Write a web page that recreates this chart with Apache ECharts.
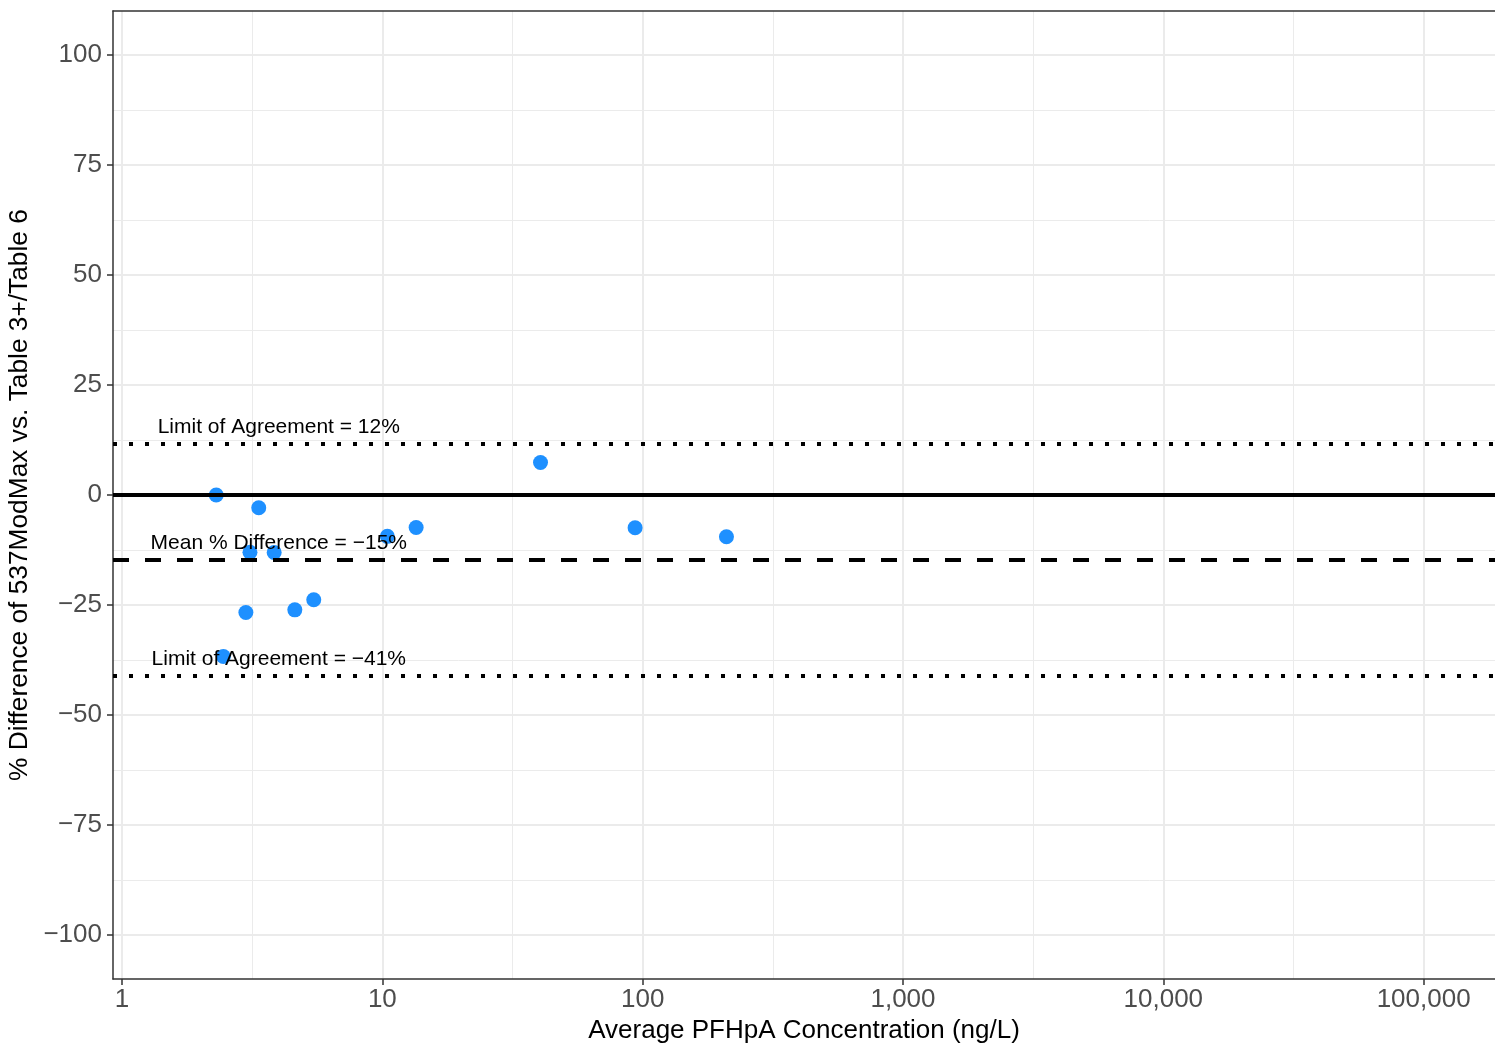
<!DOCTYPE html>
<html>
<head>
<meta charset="utf-8">
<script src="https://cdn.jsdelivr.net/npm/echarts@6/dist/echarts.min.js"></script>
<style>
  html, body { margin: 0; padding: 0; background: #fff; }
  #chart { width: 1495px; height: 1045px; }
</style>
</head>
<body>
<div id="chart"></div>
<script>
// 측정값 (평균 농도, % 차이)
var avgConc = [2.30, 3.35, 3.10, 3.84, 2.99, 4.61, 5.45, 2.45, 10.45, 13.48, 40.5, 93.5, 209.8]
var pctDiff = [0.0, -2.9, -13.0, -13.05, -26.7, -26.1, -23.8, -36.7, -9.4, -7.4, 7.4, -7.45, -9.5]

// 기준선 값
var meanDiff = -14.64
var upperLoA = 11.69
var lowerLoA = -40.98
var labelX = 4

// 축 눈금
var xTicks = [1, 10, 100, 1000, 10000, 100000]
var xMinor = [3.1623, 31.623, 316.23, 3162.3, 31623]
var yTicks = [-100, -75, -50, -25, 0, 25, 50, 75, 100]
var yMinor = [-87.5, -62.5, -37.5, -12.5, 12.5, 37.5, 62.5, 87.5]

var points = avgConc.map(function (x, i) { return [x, pctDiff[i]] })

var font = 'Liberation Sans, Arial, Helvetica, sans-serif'
var gridColor = '#EBEBEB'
var axisColor = '#333333'

function minus(v) { return String(v).replace('-', '\u2212') }

var chart = echarts.init(document.getElementById('chart'))

var option = {
  animation: false,
  backgroundColor: '#fff',
  grid: { left: 113, right: 0, top: 11, bottom: 66, outerBoundsMode: 'none' },
  xAxis: [
    {
      type: 'log',
      min: 0.923,
      max: 188000,
      name: 'Average PFHpA Concentration (ng/L)',
      nameLocation: 'middle',
      nameGap: 37,
      nameTextStyle: { fontFamily: font, fontSize: 26, color: '#000' },
      axisLine: { show: true, onZero: false, lineStyle: { color: axisColor, width: 1.5 } },
      axisTick: { show: true, length: 6, customValues: xTicks, lineStyle: { color: axisColor, width: 1.5 } },
      axisLabel: {
        customValues: xTicks,
        margin: 8,
        fontFamily: font, fontSize: 26, color: '#4D4D4D',
        formatter: function (v) { return Number(v).toLocaleString('en-US') }
      },
      splitLine: { show: true, lineStyle: { color: gridColor, width: 2 } }
    },
    {
      type: 'log',
      min: 0.923,
      max: 188000,
      position: 'top',
      axisLine: { show: true, onZero: false, lineStyle: { color: axisColor, width: 1.5 } },
      axisTick: { show: false, customValues: xMinor },
      axisLabel: { show: false, customValues: xMinor },
      splitLine: { show: true, lineStyle: { color: gridColor, width: 1 } }
    }
  ],
  yAxis: [
    {
      type: 'value',
      min: -110,
      max: 110,
      name: '% Difference of 537ModMax vs. Table 3+/Table 6',
      nameLocation: 'middle',
      nameGap: 68,
      nameTextStyle: { fontFamily: font, fontSize: 26.3, color: '#000' },
      axisLine: { show: true, onZero: false, lineStyle: { color: axisColor, width: 1.5 } },
      axisTick: { show: true, length: 6, customValues: yTicks, lineStyle: { color: axisColor, width: 1.5 } },
      axisLabel: {
        customValues: yTicks,
        margin: 11,
        fontFamily: font, fontSize: 26, color: '#4D4D4D',
        formatter: minus
      },
      splitLine: { show: true, lineStyle: { color: gridColor, width: 2 } }
    },
    {
      type: 'value',
      min: -110,
      max: 110,
      position: 'right',
      axisLine: { show: false },
      axisTick: { show: false, customValues: yMinor },
      axisLabel: { show: false, customValues: yMinor },
      splitLine: { show: true, lineStyle: { color: gridColor, width: 1 } }
    }
  ],
  series: [
    {
      type: 'scatter',
      xAxisIndex: 0,
      yAxisIndex: 0,
      data: points,
      symbolSize: 15,
      itemStyle: { color: '#1E90FF', opacity: 1 },
      z: 3,
      markLine: {
        silent: true,
        symbol: 'none',
        label: { show: false },
        data: [
          { yAxis: 0, lineStyle: { color: '#000', width: 4, type: 'solid' } },
          { yAxis: meanDiff, lineStyle: { color: '#000', width: 4, type: [16, 16] } },
          { yAxis: upperLoA, lineStyle: { color: '#000', width: 4, type: [4, 12] } },
          { yAxis: lowerLoA, lineStyle: { color: '#000', width: 4, type: [4, 12] } }
        ]
      },
      markPoint: {
        silent: true,
        symbol: 'circle',
        symbolSize: 0,
        label: {
          show: true,
          position: 'inside',
          offset: [0, -16],
          fontFamily: font,
          fontSize: 21,
          color: '#000'
        },
        data: [
          { coord: [labelX, upperLoA], label: { formatter: 'Limit of Agreement = ' + minus(Math.round(upperLoA)) + '%' } },
          { coord: [labelX, meanDiff], label: { formatter: 'Mean % Difference = ' + minus(Math.round(meanDiff)) + '%' } },
          { coord: [labelX, lowerLoA], label: { formatter: 'Limit of Agreement = ' + minus(Math.round(lowerLoA)) + '%' } }
        ]
      }
    }
  ]
}

chart.setOption(option)
</script>
</body>
</html>
